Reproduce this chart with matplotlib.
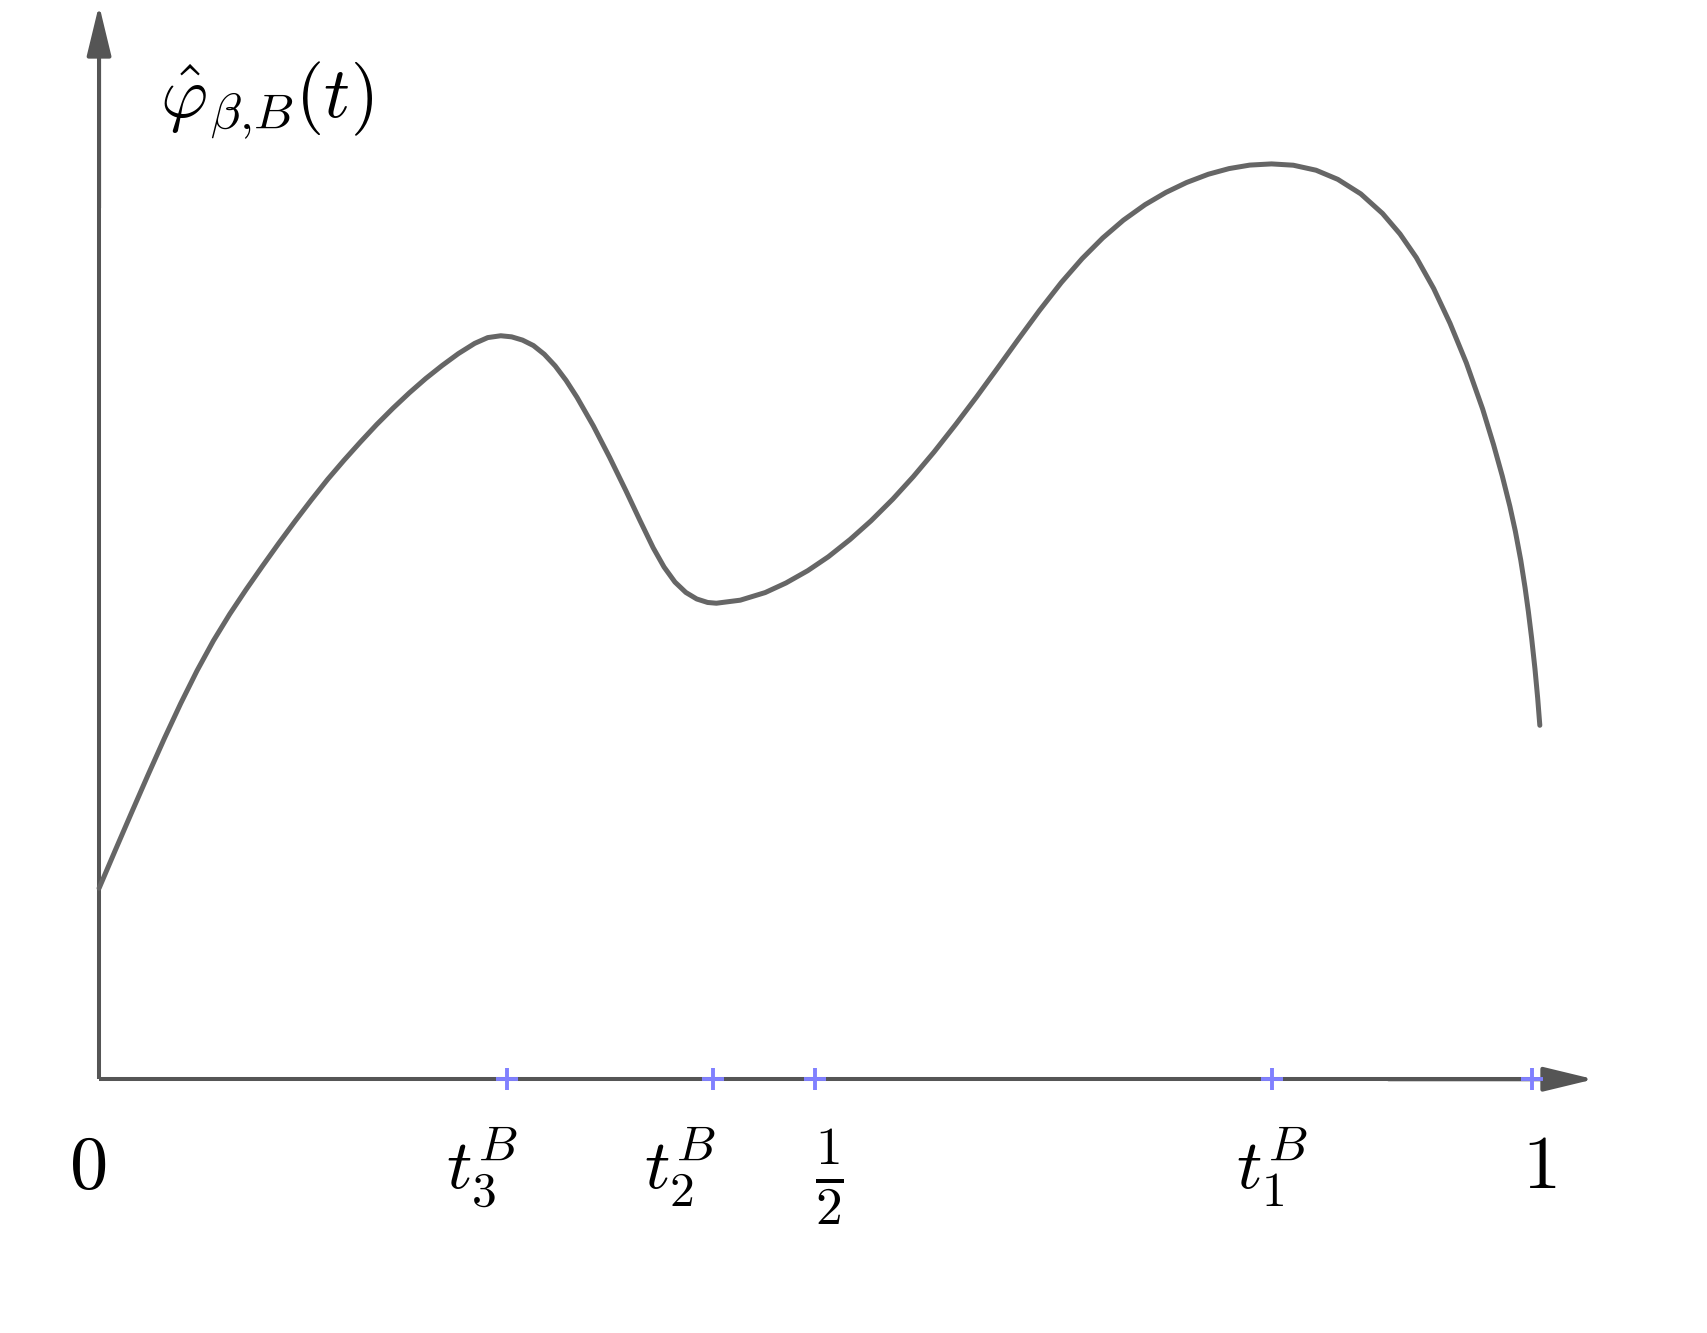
import matplotlib
matplotlib.use("Agg")
import matplotlib.pyplot as plt

plt.rcParams['mathtext.fontset'] = 'cm'

# curve: t on [0, 1], height in arbitrary units
t_vals = [0.0, 0.0114, 0.0228, 0.0342, 0.0456, 0.0570, 0.0684, 0.0798,
          0.0912, 0.1026, 0.1140, 0.1254, 0.1368, 0.1482, 0.1596, 0.1710,
          0.1824, 0.1938, 0.2052, 0.2166, 0.2280, 0.2394, 0.2508, 0.2622,
          0.2713, 0.2804,
          0.2880, 0.2956, 0.3032, 0.3108, 0.3184, 0.3260, 0.3336, 0.3450,
          0.3564, 0.3678, 0.3777, 0.3868, 0.3944, 0.4020, 0.4096, 0.4172,
          0.4248, 0.4309,
          0.4476, 0.4650, 0.4795, 0.4947, 0.5091, 0.5243, 0.5388, 0.5540,
          0.5684, 0.5828, 0.5980, 0.6125, 0.6269, 0.6413, 0.6565, 0.6717,
          0.6862, 0.7006, 0.7150, 0.7302, 0.7447, 0.7591, 0.7743, 0.7888,
          0.8032, 0.8184,
          0.8336, 0.8495, 0.8647, 0.8807, 0.8959, 0.9081, 0.9195, 0.9316,
          0.9430, 0.9544, 0.9658, 0.9734, 0.9795, 0.9848, 0.9886, 0.9924,
          0.9954, 0.9977, 1.0000, 1.0023, 1.0042, 1.0057]
phi_vals = [1.754, 2.105, 2.452, 2.795, 3.130, 3.451, 3.752, 4.026,
            4.271, 4.496, 4.711, 4.921, 5.124, 5.320, 5.509, 5.684,
            5.851, 6.012, 6.162, 6.303, 6.434, 6.553, 6.663, 6.757,
            6.810, 6.827,
            6.817, 6.787, 6.737, 6.657, 6.550, 6.417, 6.262, 6.000,
            5.710, 5.403, 5.127, 4.880, 4.703, 4.565, 4.470, 4.410,
            4.378, 4.371,
            4.399, 4.469, 4.557, 4.670, 4.798, 4.957, 5.127, 5.326,
            5.534, 5.759, 6.013, 6.265, 6.525, 6.788, 7.060, 7.316,
            7.535, 7.725, 7.888, 8.031, 8.143, 8.234, 8.310, 8.362,
            8.394, 8.405,
            8.393, 8.347, 8.263, 8.130, 7.950, 7.762, 7.545, 7.261,
            6.942, 6.578, 6.154, 5.827, 5.539, 5.261, 5.033, 4.766,
            4.514, 4.295, 4.049, 3.770, 3.501, 3.250]

# marked points on the t axis and their labels
tick_pos = [0.285, 0.4284, 0.5, 0.8185, 1.0]
tick_labels = [r'$0$', r'$t_3^B$', r'$t_2^B$', r'$\frac{1}{2}$', r'$t_1^B$', r'$1$']
label_x = [-0.008, 0.2675, 0.4057, 0.5099, 0.8191, 1.0053]

fig = plt.figure(figsize=(17.07, 13.33), dpi=100)
ax = fig.add_axes([0, 0, 1, 1])
ax.set_xlim(-0.06915, 1.1224)
ax.set_ylim(-2.33, 9.91)
ax.axis('off')

axis_col = '#555555'
# axes with arrow heads
ax.plot([0, 1.0], [0, 0], color=axis_col, lw=2.9, solid_capstyle='butt')
ax.plot([0, 0], [0, 9.5], color=axis_col, lw=2.9, solid_capstyle='butt')
ax.annotate('', xy=(1.0435, 0), xytext=(0.9, 0),
            arrowprops=dict(arrowstyle='-|>,head_length=31,head_width=7.5',
                            mutation_scale=1, color=axis_col, lw=2.9,
                            shrinkA=0, shrinkB=0))
ax.annotate('', xy=(0, 9.864), xytext=(0, 8.0),
            arrowprops=dict(arrowstyle='-|>,head_length=31,head_width=7.5',
                            mutation_scale=1, color=axis_col, lw=2.9,
                            shrinkA=0, shrinkB=0))

# the function
ax.plot(t_vals, phi_vals, color='#666666', lw=3.6, solid_capstyle='round',
        solid_joinstyle='round', zorder=3)

# blue crosses on the axis
ax.plot(tick_pos, [0] * len(tick_pos), linestyle='none', marker='+',
        markersize=16, mew=2.8, color='#8080ff', zorder=4)

for lab, lx in zip(tick_labels, label_x):
    if 'frac' in lab:
        ax.text(lx, -0.9, lab, fontsize=55, ha='center', va='center')
    elif 't_' in lab:
        ax.text(lx, -1.0, lab, fontsize=51, ha='center', va='baseline')
    else:
        ax.text(lx, -1.0, lab, fontsize=55, ha='center', va='baseline')

ax.text(0.0426, 8.835, r'$\hat{\varphi}_{\beta{,}B}(t)$', fontsize=52,
        ha='left', va='baseline')

fig.savefig('out.png', dpi=100)
